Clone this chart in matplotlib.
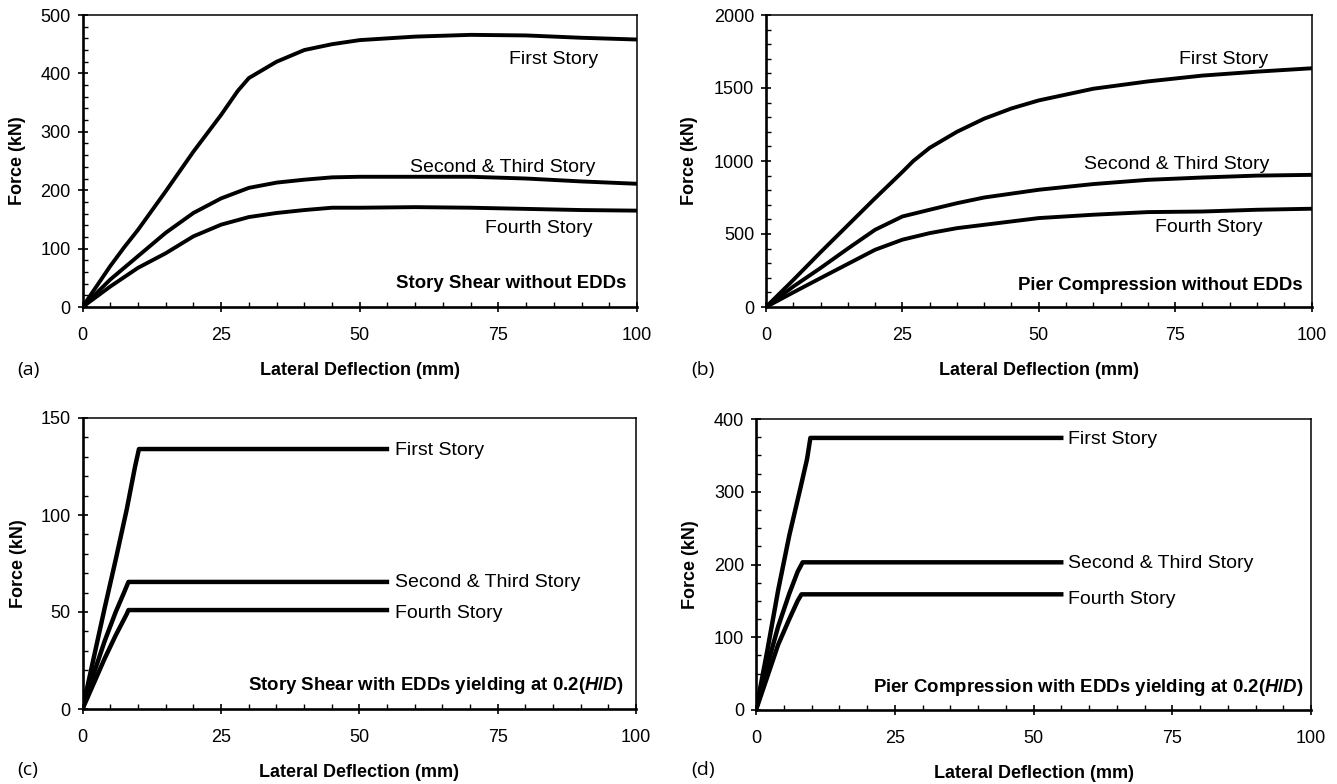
import matplotlib
matplotlib.use("Agg")
import matplotlib.pyplot as plt
from matplotlib.ticker import MultipleLocator

plt.rcParams['font.family'] = ['Liberation Sans', 'DejaVu Sans']
plt.rcParams['mathtext.fontset'] = 'custom'
plt.rcParams['mathtext.it'] = 'Liberation Sans:bold:italic'
plt.rcParams['mathtext.rm'] = 'Liberation Sans:bold'

# ---------------- data ----------------
# (a) Story shear without EDDs
a_x1 = [0, 2.5, 5, 7.5, 10, 15, 20, 25, 28, 30, 35, 40, 45, 50, 60, 70, 80, 90, 100]
a_first = [0, 35, 70, 102, 132, 198, 266, 329, 370, 392, 420, 440, 450, 457, 463, 466, 465, 461, 458]
a_x2 = [0, 5, 10, 15, 20, 25, 30, 35, 40, 45, 50, 60, 70, 80, 90, 100]
a_second = [0, 47, 87, 127, 161, 186, 204, 213, 218, 222, 223, 223, 223, 220, 215, 211]
a_fourth = [0, 35, 67, 92, 121, 141, 154, 161, 166, 170, 170, 171, 170, 168, 166, 165]

# (b) Pier compression without EDDs
b_x1 = [0, 5, 10, 15, 20, 25, 27, 30, 35, 40, 45, 50, 60, 70, 80, 90, 100]
b_first = [0, 185, 375, 560, 745, 925, 1000, 1090, 1200, 1290, 1360, 1415, 1495, 1545, 1585, 1612, 1635]
b_x2 = [0, 5, 10, 15, 20, 25, 30, 35, 40, 50, 60, 70, 80, 90, 100]
b_second = [0, 140, 267, 400, 529, 620, 666, 711, 750, 803, 842, 871, 887, 900, 905]
b_fourth = [0, 100, 198, 295, 392, 461, 506, 540, 563, 609, 632, 650, 654, 666, 673]

# (c) Story shear with EDDs
c_first_x = [0, 2, 4, 6, 8, 9.5, 10.2, 55]
c_first = [0, 26, 52, 77, 103, 125, 134, 134]
c_second_x = [0, 2, 4, 6, 7.5, 8.3, 55]
c_second = [0, 18, 35, 50, 60, 65.5, 65.5]
c_fourth_x = [0, 2, 4, 6, 8, 8.3, 55]
c_fourth = [0, 13, 26, 38, 49, 51, 51]

# (d) Pier compression with EDDs
d_first_x = [0, 2, 4, 6, 8, 9.2, 9.8, 55]
d_first = [0, 80, 165, 240, 305, 345, 374, 374]
d_second_x = [0, 2, 4, 6, 7.5, 8.4, 55]
d_second = [0, 60, 115, 160, 190, 203, 203]
d_fourth_x = [0, 2, 4, 6, 7.5, 8.2, 55]
d_fourth = [0, 45, 90, 125, 150, 159, 159]

series_names = ["First Story", "Second & Third Story", "Fourth Story"]
x_ticks = [0, 25, 50, 75, 100]

W, H = 1337, 784
fig = plt.figure(figsize=(W / 100, H / 100), dpi=100)


def px_axes(left, top, right, bottom):
    return fig.add_axes([left / W, 1 - bottom / H, (right - left) / W, (bottom - top) / H])


def style(ax, ymax, ymaj, ymin, ylab_x):
    ax.set_xlim(0, 100)
    ax.set_ylim(0, ymax)
    ax.set_xticks(x_ticks)
    ax.xaxis.set_minor_locator(MultipleLocator(5))
    ax.yaxis.set_major_locator(MultipleLocator(ymaj))
    ax.yaxis.set_minor_locator(MultipleLocator(ymin))
    ax.tick_params(which='major', direction='inout', length=7, width=1.2, labelsize=13, pad=5)
    ax.tick_params(which='minor', direction='in', length=3.5, width=1.0)
    ax.tick_params(axis='x', which='major', pad=11)
    for s in ['left', 'bottom']:
        ax.spines[s].set_linewidth(1.9)
    for s in ['top', 'right']:
        ax.spines[s].set_linewidth(1.1)
    ax.set_xlabel("Lateral Deflection (mm)", fontsize=13, fontweight='bold')
    ax.set_ylabel("Force (kN)", fontsize=13, fontweight='bold')
    ax.xaxis.set_label_coords(0.5, -0.19)
    ax.yaxis.set_label_coords(ylab_x, 0.5)


lw = 2.8
lw2 = 3.2
# (a)
ax = px_axes(82.5, 15, 637, 307)
style(ax, 500, 100, 20, -0.102)
ax.plot(a_x1, a_first, color='black', lw=lw)
ax.plot(a_x2, a_second, color='black', lw=lw)
ax.plot(a_x2, a_fourth, color='black', lw=lw)
ax.text(93, 424, series_names[0], ha='right', va='center', fontsize=14)
ax.text(92.5, 239, series_names[1], ha='right', va='center', fontsize=14)
ax.text(92, 135, series_names[2], ha='right', va='center', fontsize=14)
ax.text(98, 40, "Story Shear without EDDs", ha='right', va='center', fontsize=13.4, fontweight='bold')

# (b)
ax = px_axes(766, 15, 1311.5, 307)
style(ax, 2000, 500, 100, -0.125)
ax.plot(b_x1, b_first, color='black', lw=lw)
ax.plot(b_x2, b_second, color='black', lw=lw)
ax.plot(b_x2, b_fourth, color='black', lw=lw)
ax.text(92, 1697, series_names[0], ha='right', va='center', fontsize=14)
ax.text(92.2, 978, series_names[1], ha='right', va='center', fontsize=14)
ax.text(91, 545, series_names[2], ha='right', va='center', fontsize=14)
ax.text(98.4, 148, "Pier Compression without EDDs", ha='right', va='center', fontsize=13.4, fontweight='bold')

# (c)
ax = px_axes(82.5, 418, 636, 709)
style(ax, 150, 50, 10, -0.101)
ax.plot(c_first_x, c_first, color='black', lw=lw2)
ax.plot(c_second_x, c_second, color='black', lw=lw2)
ax.plot(c_fourth_x, c_fourth, color='black', lw=lw2)
ax.text(56.4, 133, series_names[0], ha='left', va='center', fontsize=14)
ax.text(56.4, 65.4, series_names[1], ha='left', va='center', fontsize=14)
ax.text(56.4, 49.4, series_names[2], ha='left', va='center', fontsize=14)
ax.text(97.7, 11.9, r"Story Shear with EDDs yielding at 0.2($H/D$)", ha='right', va='center',
        fontsize=13.4, fontweight='bold')

# (d)
ax = px_axes(756, 419, 1311, 710)
style(ax, 400, 100, 25, -0.103)
ax.plot(d_first_x, d_first, color='black', lw=lw2)
ax.plot(d_second_x, d_second, color='black', lw=lw2)
ax.plot(d_fourth_x, d_fourth, color='black', lw=lw2)
ax.text(56.3, 372, series_names[0], ha='left', va='center', fontsize=14)
ax.text(56.3, 202, series_names[1], ha='left', va='center', fontsize=14)
ax.text(56.3, 152, series_names[2], ha='left', va='center', fontsize=14)
ax.text(98.6, 31, r"Pier Compression with EDDs yielding at 0.2($H/D$)", ha='right', va='center',
        fontsize=13.4, fontweight='bold')

# panel letters
for lab, xp, yp in [("(a)", 17, 370), ("(b)", 691, 370), ("(c)", 17, 770), ("(d)", 691, 770)]:
    fig.text(xp / W, 1 - yp / H, lab, ha='left', va='center', fontsize=14, family=['Open Sans', 'DejaVu Sans'])

fig.savefig("out.png", dpi=100)
